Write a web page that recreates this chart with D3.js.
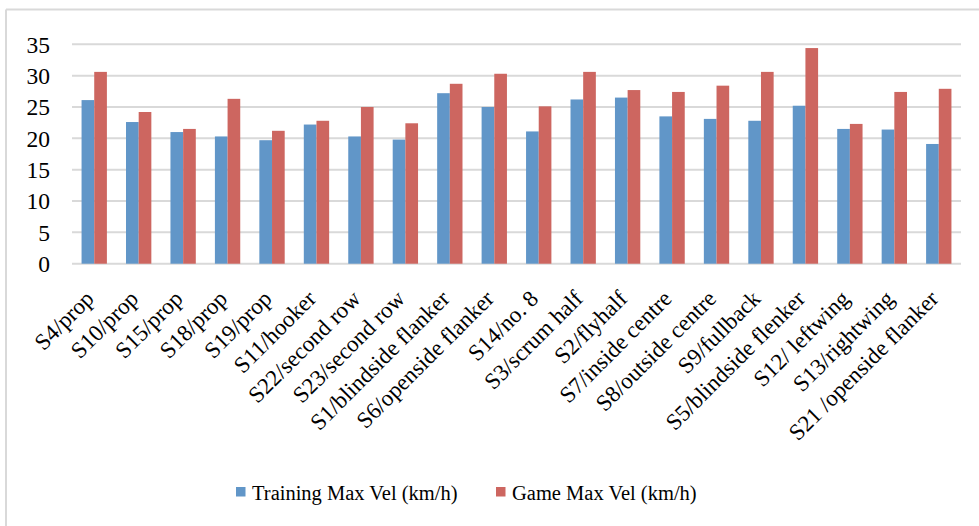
<!DOCTYPE html>
<html>
<head>
<meta charset="utf-8">
<script src="https://cdn.jsdelivr.net/npm/d3@7/dist/d3.min.js"></script>
<style>
html,body{margin:0;padding:0;background:#fff;}
svg{display:block;}
text{font-family:"Liberation Serif","Times New Roman",serif;fill:#000;}
</style>
</head>
<body>
<svg id="chart" width="979" height="526"></svg>
<script>
const categories = ["S4/prop","S10/prop","S15/prop","S18/prop","S19/prop","S11/hooker","S22/second row","S23/second row","S1/blindside flanker","S6/openside flanker","S14/no. 8","S3/scrum half","S2/flyhalf","S7/inside centre","S8/outside centre","S9/fullback","S5/blindside flenker","S12/ leftwing","S13/rightwing","S21 /openside flanker"];
const trainingMaxVel = [26.1,22.6,21.0,20.3,19.7,22.2,20.3,19.8,27.2,25.0,21.1,26.2,26.5,23.5,23.1,22.8,25.2,21.5,21.4,19.1];
const gameMaxVel = [30.6,24.2,21.5,26.3,21.2,22.8,25.0,22.4,28.7,30.3,25.1,30.6,27.7,27.4,28.4,30.6,34.4,22.3,27.4,27.9];
const seriesNames = ["Training Max Vel (km/h)","Game Max Vel (km/h)"];
const yTicks = [0,5,10,15,20,25,30,35];
const colors = ["#6196c8","#cd6660"];

(function(){
const svg = d3.select("#chart");
// chart frame (only top and left visible)
svg.append("line").attr("x1",6).attr("x2",979).attr("y1",9.5).attr("y2",9.5).attr("stroke","#d9d9d9").attr("stroke-width",2);
svg.append("line").attr("x1",6).attr("x2",6).attr("y1",9.5).attr("y2",526).attr("stroke","#d9d9d9").attr("stroke-width",2);

const mLeft = 72, mRight = 961, mTop = 44.3, mBottom = 263.7;
const x = d3.scaleBand().domain(categories).range([mLeft,mRight]).paddingInner(0.43).paddingOuter(0.215);
const x1 = d3.scaleBand().domain([0,1]).range([0,x.bandwidth()]);
const y = d3.scaleLinear().domain([0,35]).range([mBottom,mTop]);

// gridlines
svg.append("g").selectAll("line").data(yTicks).join("line")
  .attr("x1",mLeft).attr("x2",mRight)
  .attr("y1",d=>y(d)).attr("y2",d=>y(d))
  .attr("stroke","#d9d9d9").attr("stroke-width",2);

// y tick labels
svg.append("g").selectAll("text").data(yTicks).join("text")
  .attr("x",50).attr("y",d=>y(d)).attr("dy","0.35em")
  .attr("text-anchor","end").style("font-size","23.5px")
  .text(d=>d);

// bars
const series = [trainingMaxVel, gameMaxVel];
series.forEach((vals,si)=>{
  svg.append("g").selectAll("rect").data(vals).join("rect")
    .attr("x",(d,i)=>x(categories[i])+x1(si))
    .attr("width",x1.bandwidth())
    .attr("y",d=>y(d))
    .attr("height",d=>y(0)-y(d))
    .attr("fill",colors[si]);
});

// category labels
svg.append("g").selectAll("text").data(categories).join("text")
  .attr("transform",d=>`translate(${x(d)+x.bandwidth()/2+1},${300}) rotate(-45)`)
  .attr("text-anchor","end").style("font-size","23px")
  .text(d=>d);

// legend
const legendX = [236,496];
seriesNames.forEach((n,i)=>{
  svg.append("rect").attr("x",legendX[i]).attr("y",487).attr("width",9.5).attr("height",9.5).attr("fill",colors[i]);
  svg.append("text").attr("x",legendX[i]+16).attr("y",500).style("font-size","20.5px").text(n);
});
})();
</script>
</body>
</html>
